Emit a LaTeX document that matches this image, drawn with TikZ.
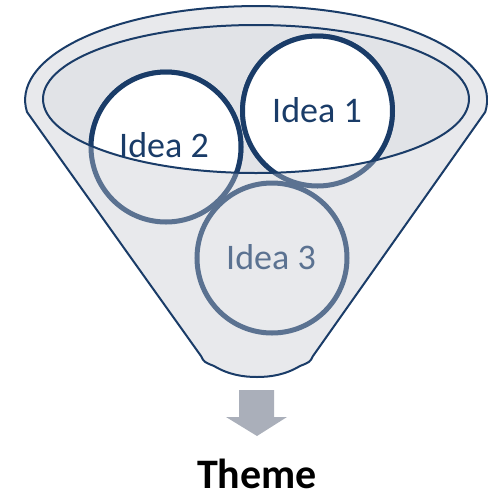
\documentclass[tikz,border=0pt]{standalone}
\usepackage{fontspec}
\setmainfont{Carlito}
\definecolor{ideadark}{RGB}{26,60,104}
\definecolor{idealight}{RGB}{91,114,145}
\definecolor{funnelgrey}{RGB}{232,233,236}
\definecolor{rimgrey}{RGB}{225,227,231}
\definecolor{arrowgrey}{RGB}{170,175,186}
\tikzset{every picture/.style={line width=0.75pt}}
\tikzset{
  funnel/.style={draw=ideadark, line width=1.5pt, fill=funnelgrey},
  ringdark/.style={draw=ideadark, line width=3.75pt, fill=white},
  ringlight/.style={draw=idealight, line width=3.75pt},
  idealabel/.style={anchor=base, inner sep=0.75pt, font=\fontsize{27}{32}\selectfont}
}

\begin{document}
\begin{tikzpicture}[x=0.75pt,y=0.75pt,yscale=-1,xscale=1]
	\useasboundingbox (0,0) rectangle (487,494);

	% funnel body
	\draw [funnel] (27,112) arc [start angle=172.7, end angle=367.3, x radius=231, y radius=94] -- (313,356) .. controls (310,362) .. (300,366) .. controls (285,375) and (270,377) .. (257,377) .. controls (244,377) and (229,375) .. (214,366) .. controls (204,362) .. (201,356) -- cycle;
	\fill [rimgrey] (256,99) ellipse [x radius=213, y radius=74];

	% circles seen through the funnel
	\coordinate (c1) at (317.5,111);
	\coordinate (c2) at (166,147);
	\coordinate (c3) at (272,258);
	\draw [ringlight] (c1) circle [radius=75];
	\draw [ringlight] (c2) circle [radius=75];
	\draw [ringlight] (c3) circle [radius=75];

	% circles inside the mouth
	\begin{scope}
		\clip (256,99) ellipse [x radius=213, y radius=74];
		\draw [ringdark] (c2) circle [radius=75];
		\draw [ringdark] (c1) circle [radius=75];
	\end{scope}
	\draw [draw=ideadark, line width=1.5pt] (256,99) ellipse [x radius=213, y radius=74];

	% arrow
	\fill [arrowgrey] (239,390) -- (274,390) -- (274,417) -- (287,417) -- (257,436) -- (226,417) -- (239,417) -- cycle;

	\draw (317,122) node [idealabel, text=ideadark] (idea1) {Idea 1};
	\draw (164,157) node [idealabel, text=ideadark] (idea2) {Idea 2};
	\draw (271,269) node [idealabel, text=idealight] (idea3) {Idea 3};
	\draw (257,488.5) node [anchor=base, inner sep=0.75pt, font=\bfseries\fontsize{31.5}{36}\selectfont] (theme) {Theme};
\end{tikzpicture}
\end{document}
